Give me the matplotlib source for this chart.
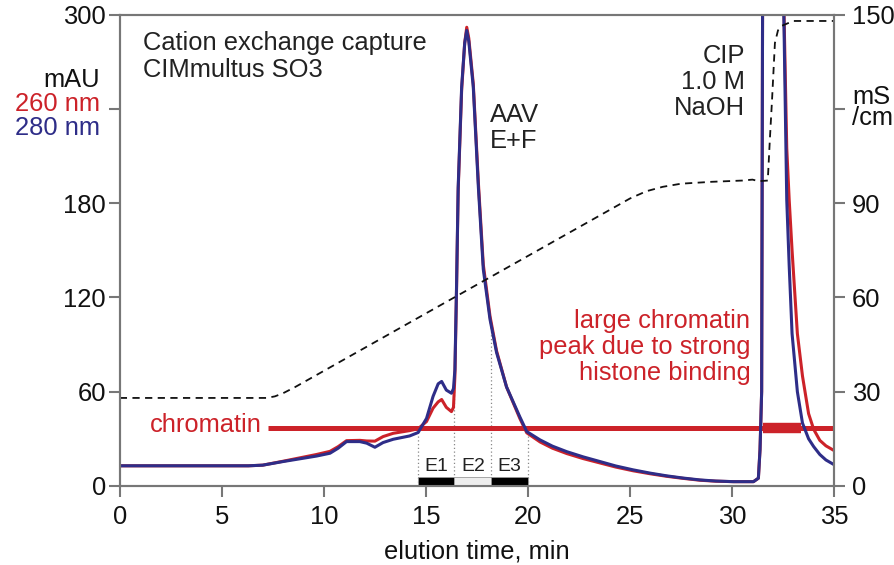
import numpy as np
import matplotlib
matplotlib.use('Agg')
import matplotlib.pyplot as plt

plt.rcParams['font.family'] = ['Liberation Sans', 'DejaVu Sans']

RED = '#cc2229'
BLUE = '#2e2d88'
GREY = '#777777'
TXT = '#222222'
FS = 18.4

# UV traces (elution time in min, absorbance in mAU)
t_uv = [0, 6.3, 7.0, 8.0, 8.8, 9.64, 10.3, 10.7, 11.11, 11.76, 12.1, 12.5, 12.9,
        13.4, 14.2, 14.62, 15.03, 15.35, 15.6, 15.77, 16.0, 16.25, 16.35, 16.42,
        16.5, 16.58, 16.75, 16.9, 17.0, 17.1, 17.32, 17.57, 17.81, 18.14, 18.46,
        18.95, 19.6, 19.94, 20.59, 21.2, 21.9, 22.7, 23.53, 24.3, 25.16, 26.0,
        26.8, 27.6, 28.43, 29.2, 30.07, 31.05, 31.29, 31.37, 31.45,
        31.5, 32.5, 32.68, 32.8, 32.94, 33.2, 33.45, 33.75, 34.0, 34.3, 34.6, 35.0]
a280 = [12.8, 12.8, 13.2, 15.5, 17.2, 19, 20.8, 24, 28.2, 28.2, 27.2, 24.6, 27.6,
        29.7, 31.8, 34, 43, 57, 65, 66.5, 61, 59, 62, 74,
        127, 190, 254, 282, 290, 283, 254, 190, 138, 106, 85,
        63, 44, 34.6, 29.3, 25.3, 21.8, 18.5, 15.5, 12.7, 10.2, 8.1,
        6.4, 5.0, 3.8, 3.1, 2.7, 2.7, 4.9, 23, 60,
        330, 330, 182, 140, 97, 60, 40, 30, 25, 20, 16.5, 13.5]
a260 = [12.8, 12.8, 13.2, 15.7, 17.8, 20, 22, 25, 28.8, 29, 28.6, 28.5, 31.4,
        33.5, 35.2, 36.4, 41, 49.5, 53.5, 55, 50, 47.3, 50, 70,
        125, 188, 252, 282, 292, 285, 256, 193, 141, 108, 86,
        63, 43, 33.8, 28.0, 24, 20.6, 17.4, 14.6, 12.0, 9.6, 7.7,
        6.1, 4.8, 3.6, 3.0, 2.7, 2.7, 4.9, 23, 60,
        330, 330, 215, 182, 150, 97, 70, 46, 36, 29, 25.5, 22.5]

# conductivity (mS/cm)
t_cond = [0, 7.2, 7.6, 8.0, 8.6, 25.0, 25.8, 26.6, 27.5, 29, 30.5, 31.0, 31.3,
          31.75, 31.85, 31.96, 32.1, 32.25, 32.45, 33, 35]
cond = [28, 28, 28.5, 29.5, 31.5, 91.5, 93.8, 95.2, 96.2, 96.8, 97.2, 97.5, 97,
        97.2, 110, 123, 141, 145, 146.5, 148, 148]

# fractions
frac_edges = [14.6, 16.4, 18.2, 20.0]
frac_names = ['E1', 'E2', 'E3']
frac_colors = ['black', '#eeeeee', 'black']

chromatin_level = 37
chromatin_span = [7.25, 35]
chromatin_cip = [31.5, 33.4]

fig = plt.figure(figsize=(8.94, 5.65), dpi=100)
ax = fig.add_axes([0.134, 0.140, 0.799, 0.834])
ax2 = ax.twinx()

ax.plot(chromatin_span, [chromatin_level] * 2, color=RED, lw=3.6, zorder=1.5,
        solid_capstyle='butt')
ax.plot(chromatin_cip, [chromatin_level] * 2, color=RED, lw=7.5, zorder=1.5,
        solid_capstyle='butt')

ax.plot(t_uv, a260, color=RED, lw=2.2, zorder=2)
ax.plot(t_uv, a280, color=BLUE, lw=2.2, zorder=2.1)

ax2.plot(t_cond, cond, color='#111111', lw=1.3, linestyle=(0, (4, 3)))

# fraction bars and dotted markers
for i, name in enumerate(frac_names):
    x0, x1 = frac_edges[i], frac_edges[i + 1]
    ax.bar(x0, 5.5, width=x1 - x0, align='edge', color=frac_colors[i],
           edgecolor='#999999', lw=0.6, zorder=3)
    ax.text((x0 + x1) / 2, 12.5, name, ha='center', va='center', fontsize=14,
            color=TXT)
for x in frac_edges:
    top = min(np.interp(x, t_uv, a280), np.interp(x, t_uv, a260))
    ax.plot([x, x], [0, top], color='#888888', lw=0.9, linestyle=(0, (1, 2)),
            zorder=1)

ax.set_xlim(0, 35)
ax.set_ylim(0, 300)
ax2.set_ylim(0, 150)

ax.set_xticks(range(0, 36, 5))
ax.set_yticks([0, 60, 120, 180, 240, 300])
ax.set_yticklabels(['0', '60', '120', '180', '', '300'])
ax2.set_yticks([0, 30, 60, 90, 120, 150])
ax2.set_yticklabels(['0', '30', '60', '90', '', '150'])

for a in (ax, ax2):
    for s in a.spines.values():
        s.set_color(GREY)
        s.set_linewidth(1.5)
    a.tick_params(length=8, width=1.5, color=GREY, labelsize=FS,
                  labelcolor='#111111')
ax.tick_params(axis='y', pad=2)
ax.tick_params(axis='x', pad=6)
ax2.tick_params(axis='y', pad=5)

ax.set_xlabel('elution time, min', fontsize=FS, color='#111111', labelpad=7)

# axis unit labels
ax.text(-0.98, 258.6, 'mAU', ha='right', va='center', fontsize=FS, color='#111111', clip_on=False)
ax.text(-0.98, 243, '260 nm', ha='right', va='center', fontsize=FS, color=RED, clip_on=False)
ax.text(-0.98, 228, '280 nm', ha='right', va='center', fontsize=FS, color=BLUE, clip_on=False)
ax.text(35.9, 247.8, 'mS', ha='left', va='center', fontsize=FS, color='#111111', clip_on=False)
ax.text(35.9, 234, '/cm', ha='left', va='center', fontsize=FS, color='#111111', clip_on=False)

# annotations
ax.text(1.13, 289.5, 'Cation exchange capture\nCIMmultus SO3', ha='left', va='top',
        fontsize=FS, color=TXT, linespacing=1.15)
ax.text(18.14, 228, 'AAV\nE+F', ha='left', va='center', fontsize=FS, color=TXT,
        linespacing=1.1)
ax.text(30.64, 257, 'CIP\n1.0 M\nNaOH', ha='right', va='center', fontsize=FS,
        color=TXT, linespacing=1.1)
ax.text(30.9, 88.5, 'large chromatin\npeak due to strong\nhistone binding',
        ha='right', va='center', fontsize=FS, color=RED, linespacing=1.1)
ax.text(6.96, 39, 'chromatin', ha='right', va='center', fontsize=FS, color=RED)

fig.savefig('out.png', dpi=100)
